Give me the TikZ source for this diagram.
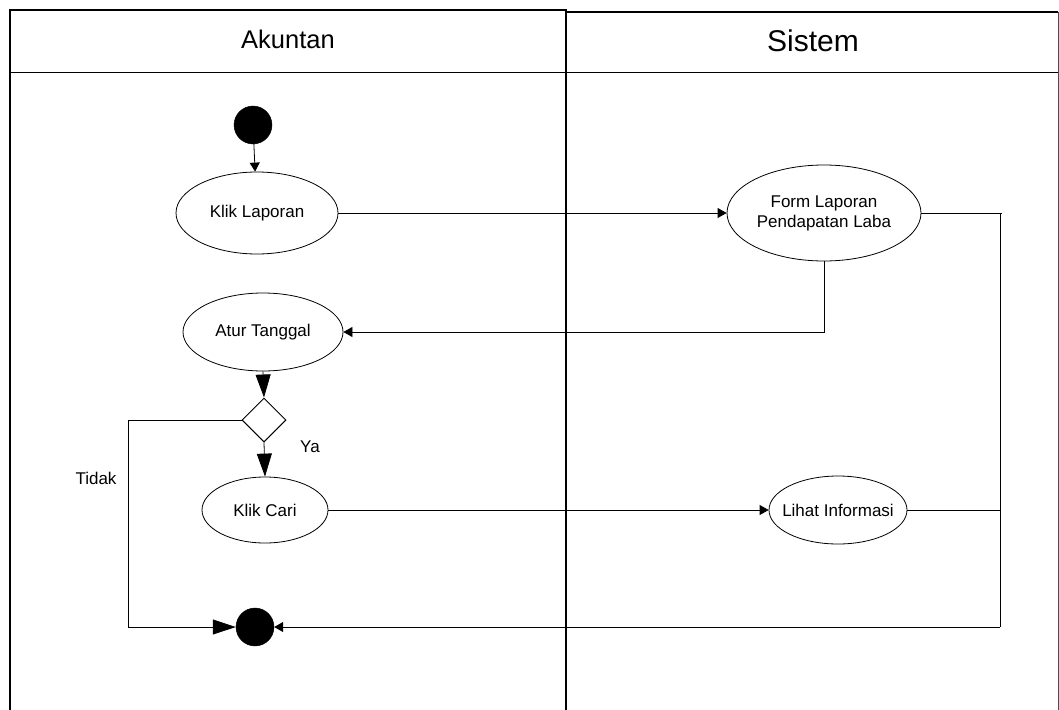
\documentclass[tikz,border=0pt]{standalone}
\usepackage{fontspec}
\setmainfont{Liberation Sans}
\usetikzlibrary{arrows.meta,shapes.geometric}
\begin{document}
\begin{tikzpicture}[x=1pt,y=-1pt,
  act/.style={draw,ellipse,line width=0.8pt,font=\fontsize{17}{20}\selectfont,align=center,inner sep=-16pt},
  dot/.style={circle,fill=black,draw=black,minimum size=38pt,inner sep=0pt},
  flow/.style={line width=0.8pt,-{Triangle[length=9pt,width=10pt]}},
  bigflow/.style={line width=0.8pt,-{Triangle[length=23pt,width=15pt]}},
  plain/.style={line width=0.8pt},
  lane/.style={line width=1.6pt},
  lbl/.style={font=\fontsize{17}{20}\selectfont,inner sep=0pt}]
\useasboundingbox (0,0) rectangle (1059,709);
% swimlanes
\draw[lane] (10,712) -- (10,10) -- (566,10) -- (566,712);
\draw[line width=0.8pt] (10,72) -- (566,72);
\draw[lane] (566,12) -- (1058,12);
\draw[line width=0.8pt,black!70] (1058,12) -- (1058,712);
\draw[line width=0.8pt] (566,72) -- (1058,72);
\node[inner sep=0pt,font=\fontsize{25.5}{30}\selectfont] (hA) at (288,39) {Akuntan};
\node[inner sep=0pt,font=\fontsize{30}{34}\selectfont] (hS) at (813,41) {Sistem};
% nodes
\node[dot] (start) at (253,125) {};
\node[act,minimum width=162pt,minimum height=82pt] (klap) at (257,213) {Klik Laporan};
\node[act,minimum width=194pt,minimum height=96pt] (form) at (824,213) {Form Laporan\\Pendapatan Laba};
\node[act,minimum width=160pt,minimum height=78pt] (atur) at (263,332) {Atur Tanggal};
\node[draw,diamond,aspect=1,line width=1pt,minimum width=44pt,minimum height=44pt,inner sep=0pt] (dec) at (264,420) {};
\node[act,minimum width=126pt,minimum height=66pt] (cari) at (265,510) {Klik Cari};
\node[act,minimum width=138pt,minimum height=68pt] (lihat) at (838,510) {Lihat Informasi};
\node[dot] (end) at (255,627) {};
\node[lbl] (ya) at (310,447) {Ya};
\node[lbl] (tidak) at (96,478) {Tidak};
% helper coordinates
\coordinate (fr) at (1002,213);
\coordinate (rt) at (1000,213);
\coordinate (rb) at (1000,627);
\coordinate (fb) at (824,332);
\coordinate (lt) at (128,420);
\coordinate (lb) at (128,627);
\coordinate (lr) at (1000,510);
% connectors
\draw[flow] (start) -- (klap);
\draw[flow] (klap.east) -- (form.west);
\draw[plain] (form.east) -- (fr);
\draw[plain] (rt) -- (rb);
\draw[flow] (form.south) -- (fb) -- (atur.east);
\draw[bigflow] (atur.south) -- (dec.north);
\draw[bigflow] (dec.south) -- (cari.north);
\draw[flow] (cari.east) -- (lihat.west);
\draw[plain] (lihat.east) -- (lr);
\draw[bigflow] (dec.west) -- (lt) -- (lb) -- (end.west);
\draw[flow] (rb) -- (end.east);
\end{tikzpicture}
\end{document}
